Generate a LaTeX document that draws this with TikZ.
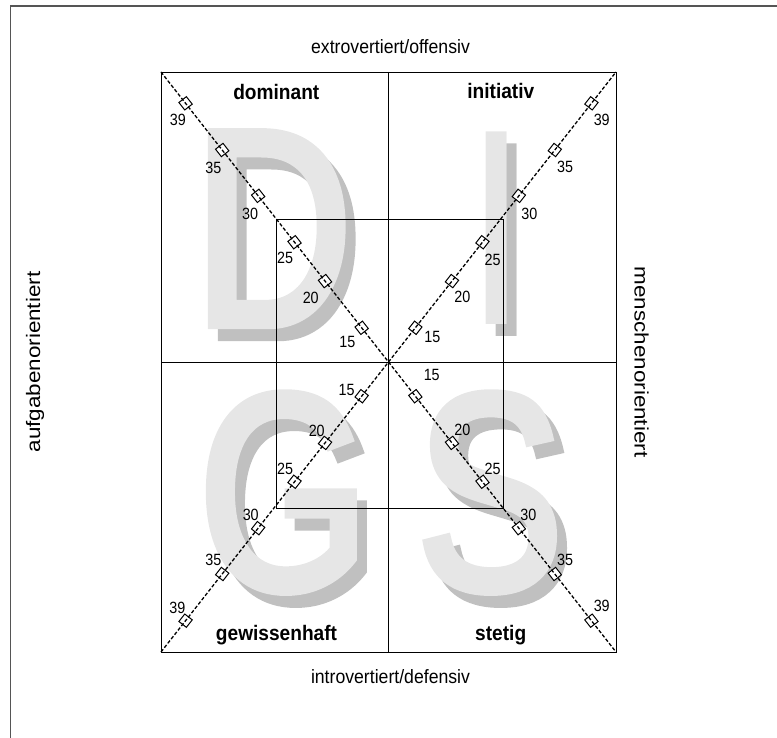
\documentclass[tikz,border=0pt]{standalone}
\usepackage{fontspec}
\setmainfont{Liberation Sans}
\newfontfamily\bigfont[FakeStretch=0.8]{Liberation Sans}
\newfontfamily\bigboldfont[FakeStretch=0.78,FakeBold=3]{Liberation Sans}
\newfontfamily\numfont[FakeStretch=0.88]{Liberation Sans}
\newfontfamily\quadfont[FakeStretch=0.91]{Liberation Sans Bold}
\newfontfamily\axisfont[FakeStretch=0.915]{Liberation Sans}
\newfontfamily\vaxisfont[FakeStretch=1.15]{Liberation Sans}
\usetikzlibrary{calc}
\definecolor{lightletter}{HTML}{E6E6E6}
\definecolor{shadowletter}{HTML}{C0C0C0}
\definecolor{framegray}{HTML}{555555}
\begin{document}
\begin{tikzpicture}[x=1pt,y=-1pt,
  bigletter/.style={inner sep=0pt, outer sep=0pt, anchor=base, text=lightletter, font=\bigboldfont\fontsize{280}{280}\selectfont},
  bigshadow/.style={bigletter, text=shadowletter},
  thinletter/.style={bigletter, font=\bigfont\fontsize{280}{280}\selectfont},
  thinshadow/.style={thinletter, text=shadowletter},
  numlabel/.style={inner sep=0pt, font=\numfont\fontsize{16.3}{16}\selectfont},
  quadlabel/.style={inner sep=0pt, anchor=base, font=\quadfont\fontsize{21}{21}\selectfont},
  axislabel/.style={inner sep=0pt, font=\axisfont\fontsize{19.3}{19}\selectfont},
  vaxislabel/.style={inner sep=0pt, font=\vaxisfont\fontsize{19.5}{19}\selectfont},
  diamondmark/.style={draw, fill=white, rectangle, minimum size=9.5pt, inner sep=0pt, line width=1pt},
  diagline/.style={dash pattern=on 3.5pt off 2pt, line width=1.3pt},
  gridline/.style={line width=0.9pt}]
\useasboundingbox (0,0) rectangle (777,738);
% outer frame
\coordinate (F0) at (10.7,738);
\coordinate (F1) at (10.7,6);
\coordinate (F2) at (777,6);
\draw[framegray, line width=1.2pt] (F0) -- (F1) -- (F2);
% main coordinates
\coordinate (TL) at (161,72);
\coordinate (TR) at (616,72);
\coordinate (BL) at (161,652);
\coordinate (BR) at (616,652);
\coordinate (C) at (388.5,362);
\coordinate (TM) at (388.5,72);
\coordinate (BM) at (388.5,652);
\coordinate (LM) at (161,362);
\coordinate (RM) at (616,362);
\coordinate (ITL) at (276.7,219.3);
\coordinate (IBR) at (503.3,508.3);
% big letters
\node[bigshadow] (Ds) at (283,337) {D};
\node[bigletter] (D) at (273,325) {D};
\node[thinshadow] (Is) at (507,337) {I};
\node[thinletter] (I) at (497,325) {I};
\node[bigshadow] (Gs) at (294,601) {G};
\node[bigletter] (G) at (284,589) {G};
\node[bigshadow] (Ss) at (500,601) {S};
\node[bigletter] (S) at (490,589) {S};
% grid
\draw[gridline] (TL) rectangle (BR);
\draw[gridline] (TM) -- (BM);
\draw[gridline] (LM) -- (RM);
\draw[gridline] (ITL) rectangle (IBR);
% markers top-left
\foreach \t/\v/\dx/\dy [count=\i] in {0.892/39/-7.6/16.7, 0.731/35/-8.9/18.3, 0.573/30/-8.1/18.2, 0.413/25/-9.5/16.1, 0.279/20/-14.3/16.6, 0.118/15/-14.4/13.9}{
  \node[diamondmark, rotate=-51.9] (mtl\i) at ($(C)!\t!(TL)$) {};
  \node[numlabel] (ltl\i) at ($(mtl\i)+(\dx,\dy)$) {\v};
}
% markers top-right
\foreach \t/\v/\dx/\dy [count=\i] in {0.892/39/10.3/16.7, 0.731/35/10.2/17.3, 0.573/30/10.4/18.2, 0.413/25/10.2/17.8, 0.279/20/10.3/16.2, 0.118/15/17/8.9}{
  \node[diamondmark, rotate=51.9] (mtr\i) at ($(C)!\t!(TR)$) {};
  \node[numlabel] (ltr\i) at ($(mtr\i)+(\dx,\dy)$) {\v};
}
% markers bottom-left
\foreach \t/\v/\dx/\dy [count=\i] in {0.892/39/-8.3/-12.4, 0.731/35/-8.9/-14, 0.573/30/-7.4/-13.2, 0.413/25/-9.5/-12.5, 0.279/20/-8.3/-12.2, 0.118/15/-15/-6.2}{
  \node[diamondmark, rotate=51.9] (mbl\i) at ($(C)!\t!(BL)$) {};
  \node[numlabel] (lbl\i) at ($(mbl\i)+(\dx,\dy)$) {\v};
}
% markers bottom-right
\foreach \t/\v/\dx/\dy [count=\i] in {0.892/39/10.3/-15, 0.731/35/10.2/-14, 0.573/30/9.4/-13.2, 0.413/25/10.2/-12.5, 0.279/20/10.3/-12.9, 0.118/15/16.4/-21.2}{
  \node[diamondmark, rotate=-51.9] (mbr\i) at ($(C)!\t!(BR)$) {};
  \node[numlabel] (lbr\i) at ($(mbr\i)+(\dx,\dy)$) {\v};
}
% diagonals
\draw[diagline] (TL) -- (BR);
\draw[diagline] (BL) -- (TR);
% quadrant labels
\node[quadlabel] (dom) at (276.3,99.3) {dominant};
\node[quadlabel] (ini) at (500.8,98.3) {initiativ};
\node[quadlabel] (gew) at (276.5,640) {gewissenhaft};
\node[quadlabel] (ste) at (500.7,640) {stetig};
% axis labels
\node[axislabel, anchor=base] (ext) at (390.5,54) {extrovertiert/offensiv};
\node[axislabel, anchor=base] (intr) at (390.5,683.3) {introvertiert/defensiv};
\node[vaxislabel, rotate=90] (auf) at (35,362) {aufgabenorientiert};
\node[vaxislabel, rotate=-90] (men) at (641.5,362) {menschenorientiert};
\end{tikzpicture}
\end{document}
